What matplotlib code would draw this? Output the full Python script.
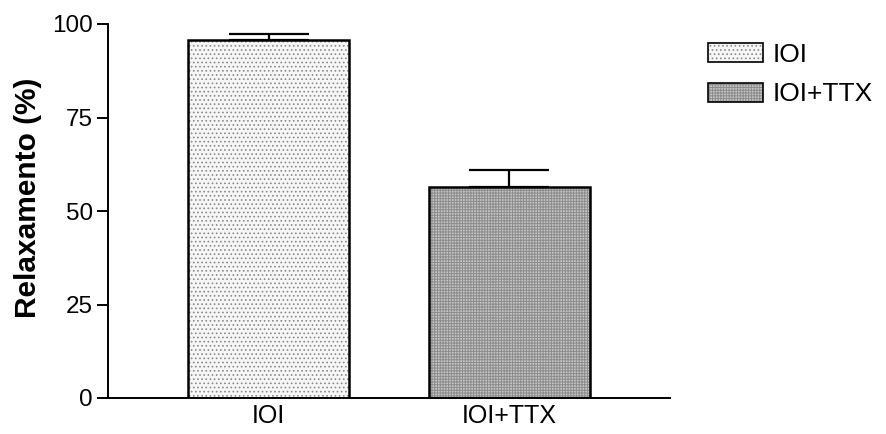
import matplotlib
matplotlib.use("Agg")
import matplotlib.pyplot as plt
from matplotlib.patches import Patch

plt.rcParams['font.family'] = ['Liberation Sans', 'DejaVu Sans']
plt.rcParams['hatch.linewidth'] = 0.7

groups = ['IOI', 'IOI+TTX']
means = [95.8, 56.4]
errors = [1.4, 4.6]
face_colors = ['#f6f6f6', '#c4c4c4']
hatch_colors = ['#8a8a8a', '#8c8c8c']
hatches = ['....', '++++++']
y_ticks = [0, 25, 50, 75, 100]

fig = plt.figure(figsize=(8.86, 4.34), dpi=100)
ax = fig.add_axes([108 / 886, 36 / 434, 562 / 886, 374 / 434])

x = range(len(groups))
bars = ax.bar(x, means, width=0.67, color=face_colors, edgecolor='black',
              linewidth=1.8, zorder=2)
for b, hc, h in zip(bars, hatch_colors, hatches):
    b.set_hatch(h)
    b._hatch_color = matplotlib.colors.to_rgba(hc)

ax.errorbar(x, means, yerr=[[0, 0], errors], fmt='none', ecolor='black',
            elinewidth=1.6, capsize=29, capthick=1.6, zorder=1)

ax.set_xlim(-0.667, 1.667)
ax.set_ylim(0, 100)
ax.set_yticks(y_ticks)
ax.set_xticks(list(x))
ax.set_xticklabels(groups, fontsize=18)
ax.tick_params(axis='x', length=0, pad=4)
ax.tick_params(axis='y', length=8, width=1.4, labelsize=17.5, pad=3)
ax.spines['top'].set_visible(False)
ax.spines['right'].set_visible(False)
ax.spines['left'].set_linewidth(1.4)
ax.spines['bottom'].set_linewidth(1.4)
ax.set_ylabel('Relaxamento (%)', fontsize=21.5, fontweight='bold')
ax.yaxis.set_label_coords(-0.118, 0.535)

handles = []
for fc, hc, h, lbl in zip(face_colors, hatch_colors, hatches, groups):
    p = Patch(facecolor=fc, edgecolor='black', hatch=h, linewidth=1.2, label=lbl)
    p._hatch_color = matplotlib.colors.to_rgba(hc)
    handles.append(p)
fig.legend(handles=handles, loc='upper left', bbox_to_anchor=(697 / 886, 1 - 32 / 434),
           frameon=False, fontsize=19, handlelength=2.1, handleheight=0.75,
           handletextpad=0.35, labelspacing=0.6, borderaxespad=0)

fig.savefig('out.png', dpi=100)
